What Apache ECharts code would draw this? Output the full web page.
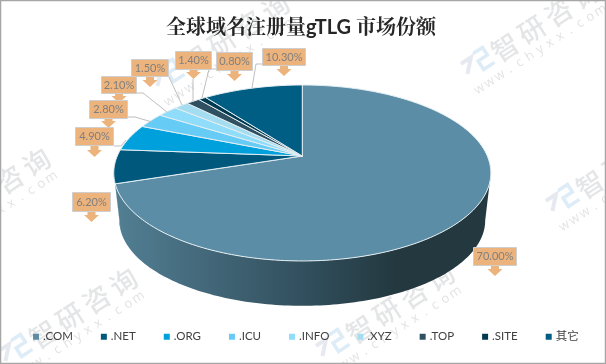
<!DOCTYPE html>
<html><head><meta charset="utf-8">
<style>html,body{margin:0;padding:0;background:#fff}#c{width:606px;height:364px}</style>
<script src="https://cdn.jsdelivr.net/npm/echarts@6/dist/echarts.min.js"></script>
</head><body><div id="c"></div>
<script>
const categories = ['.COM','.NET','.ORG','.ICU','.INFO','.XYZ','.TOP','.SITE','其它'];
const shares = [70.0,6.2,4.9,2.8,2.1,1.5,1.4,0.8,10.3];
const shareLabels = ['70.00%','6.20%','4.90%','2.80%','2.10%','1.50%','1.40%','0.80%','10.30%'];
const colors = ['#5B8EA6','#00587D','#00A0DC','#67CCF5','#8FDDFA','#A5DDF0','#2F5060','#003A50','#005E84'];

// label callouts: [x0,y0,x1,y1,arrow tip y], leader polylines (layout only)
const calloutBox = [[473,247,517,266,276],[72,192,111,212,222],[75,127,114,146,157],[89,100,128,119,128],
  [101,76,137,94,103],[131,59,169,77,87],[175,51,212,70,79],[216,52,253,71,81],[262,48,306,66,76]];
const leaders = [null,null,[[114,146],[121,146],[126,140]],[[128,117],[135,117],[152,122]],
  [[137,93],[143,93],[167,112]],[[169,77],[182,105]],[[193,79],[193,102]],[[216,69],[209,69],[202,98]],[[262,64],[256,64],[252,88]]];

// perspective ellipse projection
const CX=302.3, AY=156, A=185, B=84.7, K=0.193, WALL_SCALE=0.97, WALL_AY=204;
function proj(theta,s,ay){const u=Math.sin(theta),v=Math.cos(theta),w=1+K*v;
  return [CX+s*A*u/w, ay-s*B*v/w];}
const total=shares.reduce((a,b)=>a+b,0);
const cumulative=[];shares.reduce((a,b,i)=>{cumulative[i]=a;return a+b;},0);
const toAngle=p=>p/total*Math.PI*2;
const wallFrom=Math.acos(-K), wallTo=2*Math.PI-Math.acos(-K);

function arc(t0,t1,s,ay){const n=Math.max(2,Math.ceil((t1-t0)/0.02));const pts=[];
  for(let i=0;i<=n;i++)pts.push(proj(t0+(t1-t0)*i/n,s,ay));return pts;}
const wallFill={type:'linear',x:116,y:0,x2:490,y2:0,global:true,colorStops:[
  {offset:0,color:'#527F93'},{offset:.3,color:'#3F6273'},{offset:.55,color:'#2F4B58'},{offset:.75,color:'#23383F'},{offset:1,color:'#23383F'}]};

function makeSeries(i){
  return {type:'custom',name:categories[i],coordinateSystem:'none',silent:true,animation:false,
    z:10,itemStyle:{color:colors[i]},
    data:[[shares[i],cumulative[i]]],
    renderItem(params,api){
      const v=api.value(0),c=api.value(1);
      const t0=toAngle(c),t1=toAngle(c+v);
      const kids=[];
      const a=Math.max(t0,wallFrom),b=Math.min(t1,wallTo);
      if(b>a){
        const top=arc(a,b,1,AY),bot=arc(a,b,WALL_SCALE,WALL_AY).reverse();
        kids.push({type:'polygon',shape:{points:top.concat(bot)},
          style:{fill:i===0?wallFill:'#00425E',stroke:null},z2:1});
      }
      kids.push({type:'polygon',shape:{points:[[CX,AY]].concat(arc(t0,t1,1,AY))},
        style:{fill:colors[i],stroke:'#E4EEF2',lineWidth:1,lineJoin:'round'},z2:2});
      const [x0,y0,x1,y1,tip]=calloutBox[i],mx=(x0+x1)/2;
      if(leaders[i])kids.push({type:'polyline',shape:{points:leaders[i]},style:{fill:null,stroke:'#BFBFBF',lineWidth:1},z2:3});
      kids.push({type:'polygon',shape:{points:[[mx-4,y1],[mx+4,y1],[mx+4,tip-7],[mx+7.5,tip-7],[mx,tip],[mx-7.5,tip-7],[mx-4,tip-7]]},
        style:{fill:'#EDB37C',stroke:null},z2:4});
      kids.push({type:'rect',shape:{x:x0+.5,y:y0+.5,width:x1-x0-1,height:y1-y0-1},
        style:{fill:'#EDB37C',stroke:'#CFCFCF',lineWidth:1},z2:5});
      kids.push({type:'text',x:mx,y:(y0+y1)/2,style:{text:shareLabels[i],fill:'#7F7F7F',
        font:'11px Lato, "Noto Sans", sans-serif',align:'center',verticalAlign:'middle'},z2:6});
      return {type:'group',children:kids};
    }};
}
const series=categories.map((_,i)=>makeSeries(i));

// watermarks anchored on the logo centre
const marks=[[477,63],[167,75],[243,210],[562,200],[15,350],[332,345],[-72,230]];
const markName='智研咨询', markUrl='www.chyxx.com';
const ROT=33*Math.PI/180;
function watermark(lx,ly){
  const chars=[...markName].map((ch,j)=>({type:'text',x:32+32*j,y:2,style:{text:ch,fill:'rgba(120,125,130,0.2)',
    font:'500 27px "Noto Sans CJK SC"',align:'center',verticalAlign:'middle'}}));
  const url=[...markUrl].map((ch,j)=>({type:'text',x:-12+12*j,y:23,style:{text:ch,fill:'rgba(120,125,130,0.22)',
    font:'13px "Open Sans"',align:'center',verticalAlign:'middle'}}));
  return {type:'group',x:lx,y:ly,rotation:ROT,z:100,silent:true,children:[
    {type:'polyline',shape:{points:[[-14,-8],[-2,-8],[-14,4]]},style:{fill:null,stroke:'rgba(140,155,180,0.22)',lineWidth:4}},
    {type:'polyline',shape:{points:[[2,-10],[13,-10],[13,-1],[2,-1],[2,9],[15,9]]},style:{fill:null,stroke:'rgba(120,180,225,0.25)',lineWidth:3.5}},
    ...chars,...url
  ]};
}

const chart=echarts.init(document.getElementById('c'),null,{renderer:'canvas'});
chart.setOption({
  animation:false,
  backgroundColor:'#fff',
  title:{text:'全球域名注册量gTLG 市场份额',left:161,top:13,
    textStyle:{fontFamily:'Lato, "Noto Serif CJK SC", "Noto Sans CJK SC"',fontWeight:'bold',fontSize:20,color:'#262626'}},
  legend:{show:true,left:28,top:326,width:576,itemWidth:6,itemHeight:6,itemGap:28,icon:'rect',selectedMode:false,
    textStyle:{fontFamily:'Lato, "Noto Sans CJK SC"',fontSize:11.5,color:'#404040',padding:[0,0,0,-1]},
    data:categories},
  series,
  graphic:[
    ...marks.map(m=>watermark(m[0],m[1])),
    {type:'rect',z:101,silent:true,shape:{x:0.5,y:0.5,width:605,height:363},style:{fill:null,stroke:'#A6A6A6',lineWidth:1.5}}
  ]
});
</script></body></html>
